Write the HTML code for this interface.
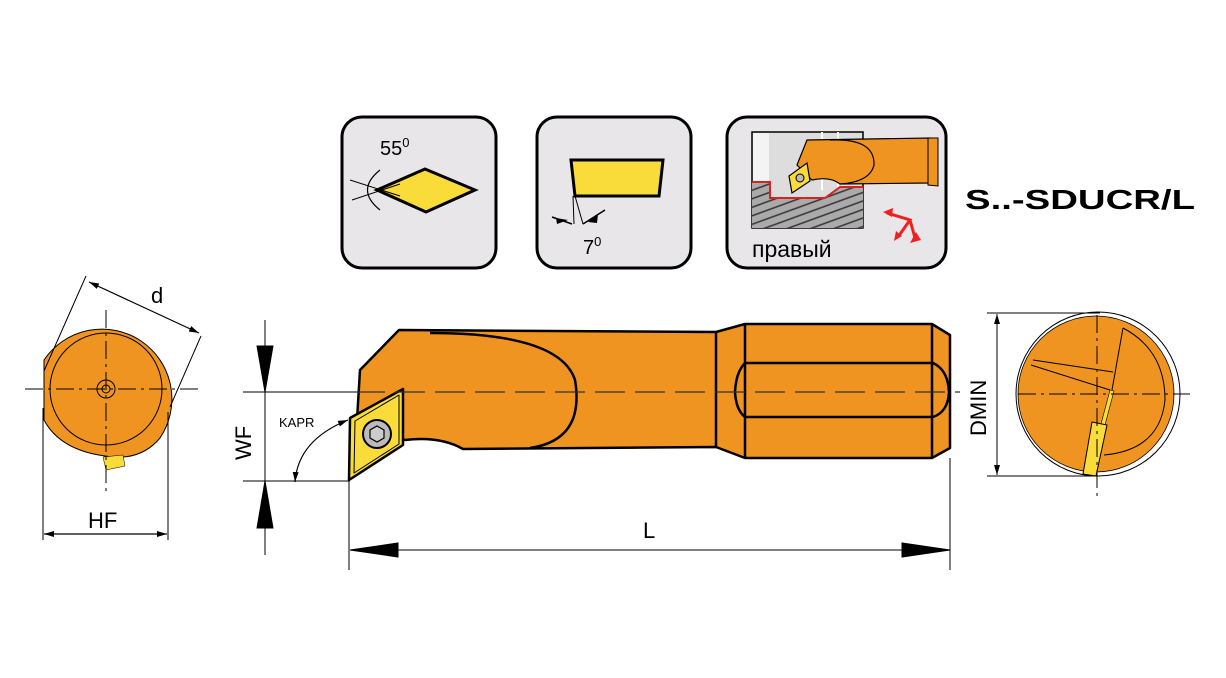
<!DOCTYPE html>
<html><head><meta charset="utf-8"><style>
html,body{margin:0;padding:0;background:#fff;}
svg{display:block;font-family:"Liberation Sans",sans-serif;}
</style></head><body>
<svg width="1226" height="678" viewBox="0 0 1226 678" xmlns="http://www.w3.org/2000/svg">
<defs>
<marker id="ar" viewBox="0 0 10 10" refX="10" refY="5" markerWidth="10" markerHeight="10" orient="auto-start-reverse" markerUnits="userSpaceOnUse"><path d="M0,2 L10,5 L0,8z" fill="#000"/></marker>
<pattern id="hatch" width="8" height="8" patternUnits="userSpaceOnUse" patternTransform="rotate(-20)"><rect width="8" height="8" fill="#aaa"/><line x1="0" y1="4" x2="8" y2="4" stroke="#333" stroke-width="1.5"/></pattern>
</defs>

<!-- top boxes -->
<rect x="342" y="117" width="154" height="151" rx="20" fill="#e8e6e8" stroke="#000" stroke-width="3"/>
<polygon points="377,190 425,169 475,190 426,212" fill="#f9db3a" stroke="#000" stroke-width="3"/>
<line x1="350" y1="180" x2="400" y2="196" stroke="#000" stroke-width="1"/>
<line x1="352" y1="200" x2="400" y2="184" stroke="#000" stroke-width="1"/>
<path d="M380,170 Q355,190 380,210" fill="none" stroke="#000" stroke-width="1.2"/>
<text x="380" y="155" font-size="20">55<tspan font-size="13" dy="-8">0</tspan></text>

<rect x="537" y="117" width="154" height="151" rx="20" fill="#e8e6e8" stroke="#000" stroke-width="3"/>
<polygon points="571,160 663,160 659,196 575,196" fill="#f9db3a" stroke="#000" stroke-width="3"/>
<line x1="573" y1="196" x2="574" y2="224" stroke="#000" stroke-width="1"/>
<line x1="575" y1="196" x2="583" y2="224" stroke="#000" stroke-width="1"/>
<path d="M552,217 L572,224 M605,210 L583,224" stroke="#000" stroke-width="1.5" fill="none"/>
<polygon points="556,218 568,220 557,224" fill="#000"/>
<polygon points="598,214 588,222 597,223" fill="#000"/>
<text x="583" y="254" font-size="20">7<tspan font-size="13" dy="-8">0</tspan></text>

<rect x="727" y="117" width="219" height="151" rx="20" fill="#e8e6e8" stroke="#000" stroke-width="3"/>
<rect x="752" y="132" width="111" height="96" fill="#ddd" stroke="#000" stroke-width="1.5"/>
<rect x="753" y="133" width="16" height="49" fill="#f4f4f4"/>
<line x1="822" y1="132" x2="822" y2="190" stroke="#fff" stroke-width="2"/>
<line x1="838" y1="132" x2="838" y2="188" stroke="#fff" stroke-width="2"/>
<polygon points="752,182 770,182 770,198 825,198 840,187 863,187 863,228 752,228" fill="url(#hatch)"/>
<polyline points="752,182 770,182 770,198 825,198 840,187 863,187" fill="none" stroke="#e02020" stroke-width="2"/>
<path d="M807,140 L930,138 L930,183 L840,184 Q830,176 812,180 L797,165 Z" fill="#ef9420" stroke="#000" stroke-width="1.2"/>
<path d="M830,140 Q875,138 874,165 Q870,182 840,184" fill="none" stroke="#000" stroke-width="1.2"/>
<polygon points="928,138 938,138 938,186 928,185" fill="#ef9420" stroke="#000" stroke-width="1"/>
<polygon points="807,163 810,181 792,193 789,176" fill="#f9db3a" stroke="#000" stroke-width="1.2"/>
<circle cx="800" cy="178" r="4" fill="#bbb" stroke="#000"/>
<g stroke="#f02020" stroke-width="3" fill="none"><path d="M887,213 L910,220 L898,237"/><path d="M910,220 L915,238"/></g>
<polygon points="883,212 893,208 892,217" fill="#f02020"/>
<polygon points="894,241 896,231 902,236" fill="#f02020"/>
<polygon points="910,243 916,232 921,240" fill="#f02020"/>
<text x="752" y="257" font-size="23" fill="#000">правый</text>

<text x="965" y="209" font-size="28" font-weight="bold" textLength="230" lengthAdjust="spacingAndGlyphs">S..-SDUCR/L</text>

<!-- left end view -->
<g stroke="#000">
<path d="M44,360 A64,64 0 1 1 160,438 Q140,462 105,456 Q60,450 44,420 Z" fill="#ef9420" stroke-width="1"/>
<circle cx="106" cy="389" r="56" fill="#ef9420" stroke-width="1"/>
<circle cx="106" cy="389" r="9" fill="none" stroke-width="1"/>
<circle cx="106" cy="389" r="4" fill="none" stroke-width="1"/>
<polygon points="103,457 123,455 125,466 106,470" fill="#f9db3a" stroke-width="0.5"/>
<line x1="25" y1="389" x2="202" y2="389" stroke-width="1" stroke-dasharray="18,5,3,5"/>
<line x1="106" y1="310" x2="106" y2="495" stroke-width="1" stroke-dasharray="18,5,3,5"/>
<line x1="86" y1="276" x2="44" y2="371" stroke-width="1"/>
<line x1="201" y1="336" x2="170" y2="407" stroke-width="1"/>
<line x1="89" y1="282" x2="199" y2="333" stroke-width="1.2" marker-start="url(#ar)" marker-end="url(#ar)"/>
<line x1="43" y1="408" x2="43" y2="540" stroke-width="1"/>
<line x1="168" y1="412" x2="168" y2="540" stroke-width="1"/>
<line x1="44" y1="534" x2="167" y2="534" stroke-width="1.2" marker-start="url(#ar)" marker-end="url(#ar)"/>
</g>
<text x="151" y="303" font-size="22">d</text>
<text x="88" y="528" font-size="22">HF</text>

<!-- main tool -->
<g stroke="#000" stroke-width="2.5" stroke-linejoin="round">
<path d="M745,324 L932,324 L950,335 L950,448 L932,458 L745,458 L716,447 L463,449 Q440,436 405,440 L357,420 L360,370 L399,330 L716,332 Z" fill="#ef9420"/>
<path d="M430,333 Q560,333 575,380 Q585,440 530,448" fill="none"/>
<line x1="716" y1="332" x2="716" y2="447"/>
<line x1="745" y1="324" x2="745" y2="458"/>
<line x1="932" y1="324" x2="932" y2="458"/>
<path d="M745,363 L933,363 Q948,370 949,392 Q948,412 933,417 L745,417 Q736,410 735,392 Q736,372 745,363 Z" fill="none"/>
<polygon points="403,389 350,418 349,480 403,445" fill="#f9db3a"/>
<polygon points="399,395 355,421 354,473 399,444" fill="none" stroke-width="1"/>
</g>
<circle cx="377" cy="434" r="14" fill="#bbb" stroke="#000" stroke-width="2"/>
<polygon points="377,426 384,430 384,438 377,442 370,438 370,430" fill="#ccc" stroke="#000" stroke-width="1.2"/>
<line x1="355" y1="392" x2="960" y2="392" stroke="#333" stroke-width="1.2" stroke-dasharray="30,10"/>

<!-- WF / L dimensions -->
<g stroke="#000" stroke-width="1">
<line x1="243" y1="392" x2="355" y2="392"/>
<line x1="243" y1="481" x2="350" y2="481"/>
<line x1="265" y1="320" x2="265" y2="555"/>
<polygon points="257,346 273,346 265,392" fill="#000"/>
<polygon points="257,528 273,528 265,481" fill="#000"/>
<path d="M295,482 Q298,440 348,420" fill="none" stroke-width="1.2" marker-start="url(#ar)" marker-end="url(#ar)"/>
<line x1="349" y1="481" x2="349" y2="570"/>
<line x1="950" y1="458" x2="950" y2="570"/>
<line x1="350" y1="550" x2="950" y2="550"/>
<polygon points="350,550 398,543 398,557" fill="#000"/>
<polygon points="950,550 902,543 902,557" fill="#000"/>
</g>
<text x="0" y="0" font-size="22" transform="translate(251,460) rotate(-90)">WF</text>
<text x="279" y="427" font-size="13">KAPR</text>
<text x="643" y="538" font-size="22">L</text>

<!-- right end view -->
<g stroke="#000">
<circle cx="1098" cy="394" r="82" fill="#fff" stroke-width="1"/>
<circle cx="1096" cy="394" r="78" fill="#ef9420" stroke-width="0.8"/>
<path d="M1123,328 Q1165,350 1165,400 Q1160,450 1104,455" fill="none" stroke-width="1"/>
<path d="M1033,360 L1113,372 M1031,365 L1110,390" stroke-width="1" fill="none"/>
<line x1="1123" y1="328" x2="1112" y2="390" stroke-width="1"/>
<polygon points="1110,390 1114,391 1105,425 1101,424" fill="#f9db3a" stroke-width="0.6"/>
<polygon points="1092,422 1107,425 1096,476 1083,474" fill="#f9db3a" stroke-width="1"/>
<line x1="1018" y1="394" x2="1190" y2="394" stroke-width="1" stroke-dasharray="18,5,3,5"/>
<line x1="1097" y1="315" x2="1097" y2="500" stroke-width="1" stroke-dasharray="18,5,3,5"/>
<line x1="987" y1="313" x2="1100" y2="313" stroke-width="1"/>
<line x1="987" y1="476" x2="1100" y2="476" stroke-width="1"/>
<line x1="997" y1="314" x2="997" y2="475" stroke-width="1" marker-start="url(#ar)" marker-end="url(#ar)"/>
</g>
<text x="0" y="0" font-size="22" transform="translate(986,436) rotate(-90)">DMIN</text>
</svg>
</body></html>
